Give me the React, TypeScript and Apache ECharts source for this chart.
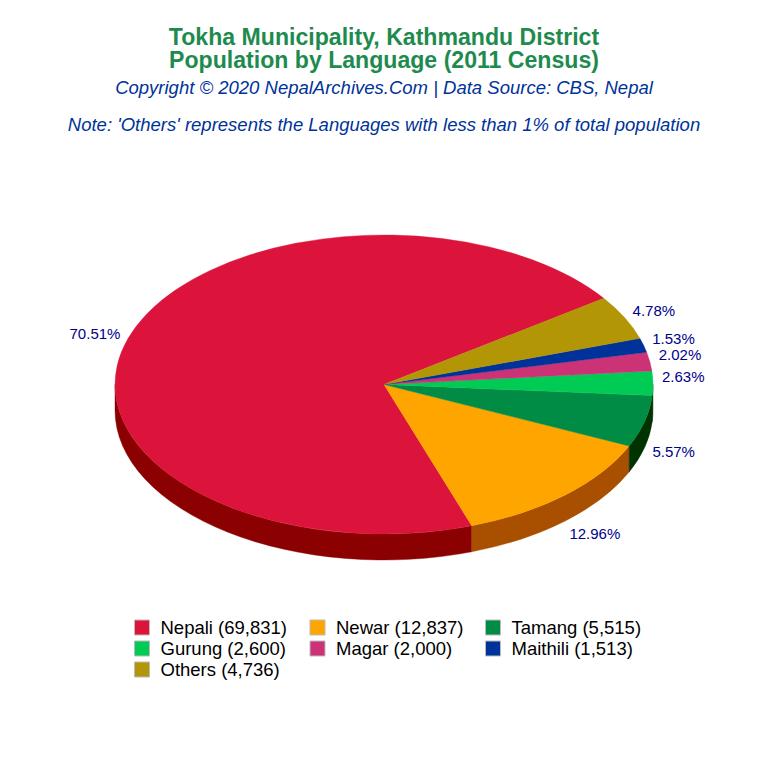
import React, { useEffect, useRef } from "react";
import * as echarts from "echarts";

const languages = ["Nepali", "Newar", "Tamang", "Gurung", "Magar", "Maithili", "Others"];
const populations = [69831, 12837, 5515, 2600, 2000, 1513, 4736];
const topColors = ["#DC143C", "#FFA500", "#008C45", "#00CC55", "#CC3377", "#003399", "#B29606"];
const sideColors = ["#8B0000", "#A84F00", "#003300", "#003300", "#661A3C", "#001A4D", "#594B03"];
const legendColumns = [
  ["Nepali", "Gurung", "Others"],
  ["Newar", "Magar"],
  ["Tamang", "Maithili"],
];

const titleLines = "Tokha Municipality, Kathmandu District\nPopulation by Language (2011 Census)";
const copyrightLine = "Copyright © 2020 NepalArchives.Com | Data Source: CBS, Nepal";
const noteLine = "Note: 'Others' represents the Languages with less than 1% of total population";

const FONT = '"Liberation Sans", Arial, sans-serif';
const CX = 384;
const CY = 384.5;
const RX = 269;
const RY = 149.5;
const DEPTH = 26;
const START_DEG = 35.2;
const LABEL_RX = 278;
const LABEL_RY = 166;
// Small nudges that keep the labels where the reference has them.
const LABEL_LIFT: Record<string, number> = { Maithili: 2, Magar: 4, Gurung: 6.5 };
const LABEL_SHIFT: Record<string, number> = { Nepali: 1, Newar: -2, Tamang: -1 };

const total = populations.reduce((a, b) => a + b, 0);
const legendName = (i: number) => `${languages[i]} (${populations[i].toLocaleString("en-US")})`;

const rad = (d: number) => (d * Math.PI) / 180;
const px = (d: number) => CX + RX * Math.cos(rad(d));
const py = (d: number) => CY - RY * Math.sin(rad(d));

function sliceAngles(index: number) {
  let before = 0;
  for (let i = 0; i < index; i++) before += populations[i];
  const from = START_DEG + (before / total) * 360;
  const to = from + (populations[index] / total) * 360;
  return { from, to };
}

function topPath(from: number, to: number) {
  const large = to - from > 180 ? 1 : 0;
  return `M${CX} ${CY}L${px(from)} ${py(from)}A${RX} ${RY} 0 ${large} 0 ${px(to)} ${py(to)}Z`;
}

function sidePath(from: number, to: number) {
  const a = Math.max(from, 180);
  const b = Math.min(to, 360);
  if (b <= a) return null;
  return (
    `M${px(a)} ${py(a)}A${RX} ${RY} 0 0 0 ${px(b)} ${py(b)}` +
    `L${px(b)} ${py(b) + DEPTH}A${RX} ${RY} 0 0 1 ${px(a)} ${py(a) + DEPTH}Z`
  );
}

function sliceRenderer(index: number) {
  return (_params: any, api: any) => {
    const value = api.value(0) as number;
    const { from, to } = sliceAngles(index);
    const mid = (from + to) / 2;
    const cos = Math.cos(rad(mid));
    const sin = Math.sin(rad(mid));
    const children: any[] = [];
    const side = sidePath(from, to);
    if (side) {
      children.push({
        type: "path",
        shape: { pathData: side },
        style: { fill: sideColors[index], stroke: sideColors[index], lineWidth: 0.4 },
      });
    }
    children.push({
      type: "path",
      shape: { pathData: topPath(from, to) },
      style: { fill: topColors[index], stroke: topColors[index], lineWidth: 0.4 },
    });
    children.push({
      type: "text",
      style: {
        x: CX + LABEL_RX * cos + (LABEL_SHIFT[languages[index]] || 0),
        y: CY - LABEL_RY * sin + (sin < 0 ? DEPTH : 0) - (LABEL_LIFT[languages[index]] || 0),
        text: `${((value / total) * 100).toFixed(2)}%`,
        fill: "#00008B",
        fontSize: 15,
        fontFamily: FONT,
        align: cos >= 0 ? "left" : "right",
        verticalAlign: "middle",
      },
    });
    return { type: "group", children };
  };
}

function buildOption() {
  const legendLefts = [134, 309.5, 485];
  return {
    animation: false,
    backgroundColor: "#FFFFFF",
    title: [
      {
        text: titleLines,
        left: 384,
        top: 25,
        padding: 0,
        textAlign: "center",
        textStyle: {
          color: "#1E8B4E",
          fontFamily: FONT,
          fontWeight: "bold",
          fontSize: 23.1,
          lineHeight: 23,
        },
      },
      {
        text: copyrightLine,
        left: 384,
        top: 77,
        padding: 0,
        textAlign: "center",
        textStyle: {
          color: "#003399",
          fontFamily: FONT,
          fontStyle: "italic",
          fontWeight: "normal",
          fontSize: 18.5,
          lineHeight: 20,
        },
      },
      {
        text: noteLine,
        left: 384,
        top: 114,
        padding: 0,
        textAlign: "center",
        textStyle: {
          color: "#003399",
          fontFamily: FONT,
          fontStyle: "italic",
          fontWeight: "normal",
          fontSize: 18.5,
          lineHeight: 20,
        },
      },
    ],
    legend: legendColumns.map((column, c) => ({
      orient: "vertical",
      left: legendLefts[c],
      top: 618,
      padding: 0,
      itemGap: 2,
      itemWidth: 15,
      itemHeight: 15,
      icon: "rect",
      selectedMode: false,
      itemStyle: { borderColor: "#BBBBBB", borderWidth: 1 },
      textStyle: { color: "#000000", fontFamily: FONT, fontSize: 18.5, padding: [0, 0, 0, 6] },
      data: column.map((name) => legendName(languages.indexOf(name))),
    })),
    series: languages.map((_name, i) => ({
      type: "custom",
      name: legendName(i),
      coordinateSystem: "none",
      silent: true,
      itemStyle: { color: topColors[i] },
      data: [populations[i]],
      renderItem: sliceRenderer(i),
    })),
  };
}

export default function App() {
  const ref = useRef<HTMLDivElement>(null);
  useEffect(() => {
    const chart = echarts.init(ref.current!, undefined, { renderer: "svg" });
    chart.setOption(buildOption() as any);
    return () => chart.dispose();
  }, []);
  return (
    <div
      ref={ref}
      style={{ position: "absolute", left: 0, top: 0, width: 768, height: 768 }}
    />
  );
}
